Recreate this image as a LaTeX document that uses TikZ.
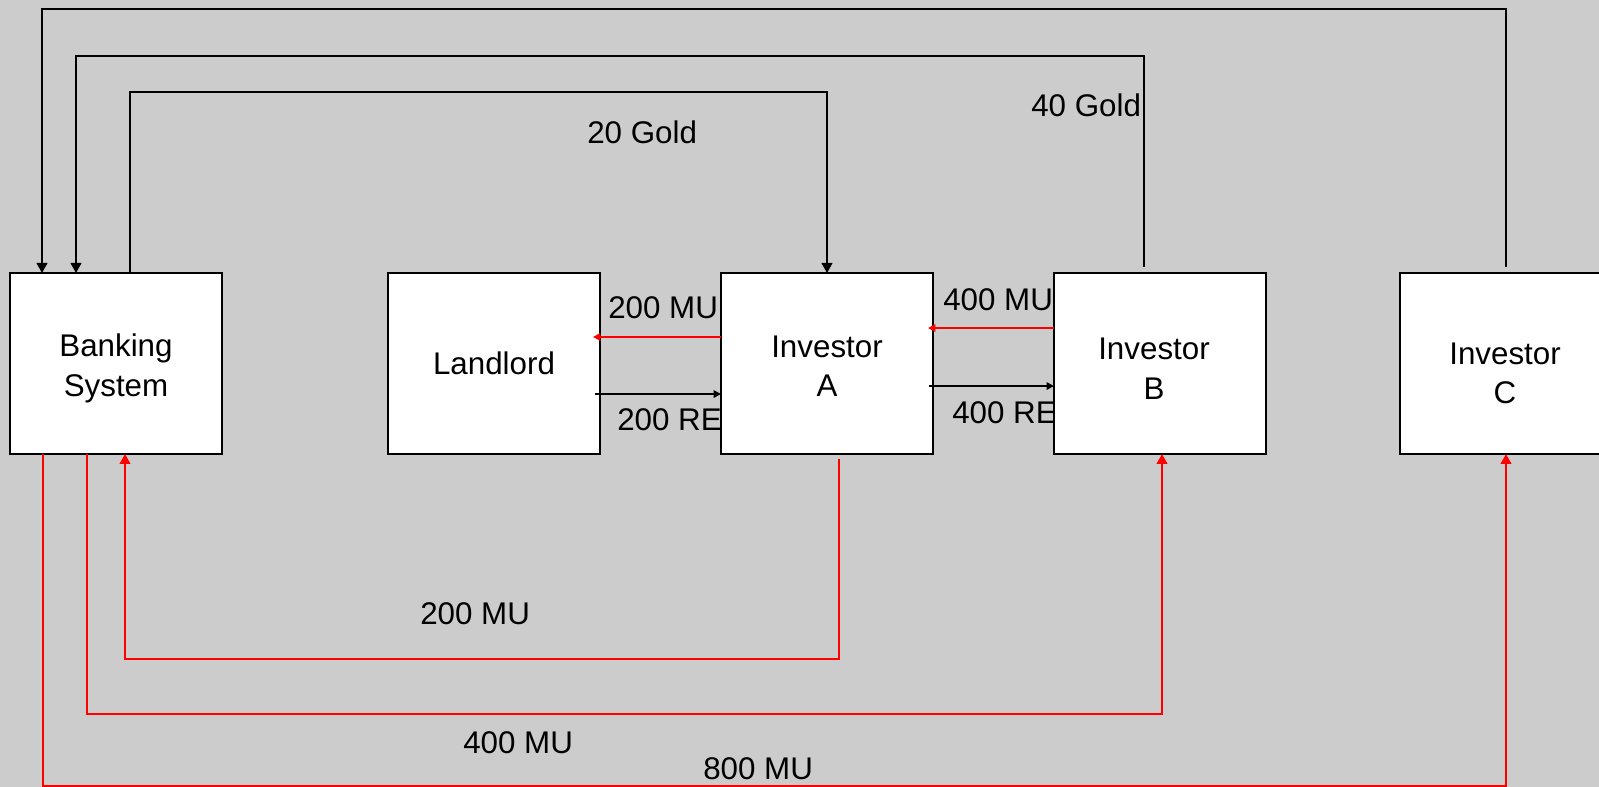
\documentclass[tikz,border=0pt]{standalone}
\usepackage{fontspec}
\setmainfont{Liberation Sans}
\usetikzlibrary{arrows.meta}
\begin{document}
\begin{tikzpicture}[x=0.75pt,y=-0.75pt,
  box/.style={draw=black,line width=1.5pt,fill=white,minimum width=159pt,minimum height=135.75pt,inner sep=0pt,outer sep=0pt},
  txt/.style={inner sep=0pt,align=center,font=\fontsize{23.5}{29.5}\selectfont},
  lbl/.style={anchor=base west,inner sep=0pt,font=\fontsize{23.5}{29.5}\selectfont},
  blk/.style={draw=black,line width=1.5pt,-{Triangle[length=7.5pt,width=8pt]}},
  redl/.style={draw=red,line width=1.5pt,-{Triangle[length=7.5pt,width=8pt]}},
  sblk/.style={draw=black,line width=1.5pt,-{Triangle[length=5.5pt,width=5.5pt]}},
  sred/.style={draw=red,line width=1.5pt,-{Triangle[length=5.5pt,width=5.5pt]}}]
\fill[fill={rgb,255:red,204;green,204;blue,204}] (0,0) rectangle (1599,787);
\useasboundingbox (0,0) rectangle (1599,787);
% labels
\node[lbl] (g20) at (587,144) {20 Gold};
\node[lbl] (g40) at (1031,117) {40 Gold};
\node[lbl] (mu200t) at (608,319) {200 MU};
\node[lbl] (re200) at (617,431) {200 RE};
\node[lbl] (mu400t) at (943,311) {400 MU};
\node[lbl] (re400) at (952,424) {400 RE};
\node[lbl] (mu200b) at (420,624) {200 MU};
\node[lbl] (mu400b) at (463,753) {400 MU};
\node[lbl] (mu800) at (703,779) {800 MU};
% boxes
\node[box] (bank) at (116,363.5) {};
\node[box] (land) at (494,363.5) {};
\node[box] (A) at (827,363.5) {};
\node[box] (B) at (1160,363.5) {};
\node[box] (C) at (1506,363.5) {};
\node[txt] (bankt) at ([yshift=-3.75pt]bank.center) {Banking\\System};
\node[txt] (landt) at (land.center) {Landlord};
\node[txt] (At) at ([yshift=-2pt]A.center) {Investor\\A};
\node[txt] (Bt) at ([xshift=-4.5pt,yshift=-3.8pt]B.center) {Investor\\B};
\node[txt] (Ct) at ([xshift=-0.75pt,yshift=-7.5pt]C.center) {Investor\\C};
% top black connectors
\draw[blk] ([yshift=4.5pt]C.north) -- ++(0,-257.5) -| ([xshift=24pt]bank.north west);
\draw[blk] ([xshift=-12pt,yshift=4.5pt]B.north) -- ++(0,-211) -| ([xshift=49.5pt]bank.north west);
\draw[blk] ([xshift=90pt]bank.north west) -- ++(0,-181) -| (A.north);
% bottom red connectors
\draw[redl] ([xshift=9pt,yshift=-3.75pt]A.south) -- ++(0,200) -| ([xshift=86.25pt]bank.south west);
\draw[redl] ([xshift=57.75pt]bank.south west) -- ++(0,260) -| ([xshift=1.5pt]B.south);
\draw[redl] ([xshift=24.75pt]bank.south west) -- ++(0,332) -| (C.south);
% middle arrows
\draw[sred] ([yshift=19.9pt]A.west) -- ([xshift=-5.25pt,yshift=19.9pt]land.east);
\draw[sblk] ([xshift=-3.75pt,yshift=-22.9pt]land.east) -- ([yshift=-22.9pt]A.west);
\draw[sred] ([yshift=26.6pt]B.west) -- ([xshift=-3.75pt,yshift=26.6pt]A.east);
\draw[sblk] ([xshift=-3pt,yshift=-16.9pt]A.east) -- ([yshift=-16.9pt]B.west);
\end{tikzpicture}
\end{document}
